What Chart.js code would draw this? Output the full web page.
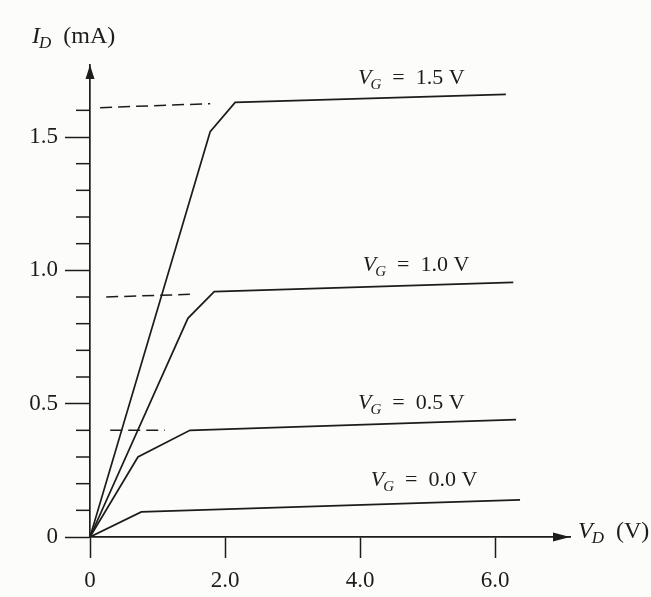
<!DOCTYPE html>
<html>
<head>
<meta charset="utf-8">
<script src="https://cdn.jsdelivr.net/npm/chart.js@4.4.0/dist/chart.umd.min.js"></script>
<style>
  html, body { margin:0; padding:0; background:#fcfcfb; }
  #wrap { width:651px; height:597px; }
</style>
</head>
<body>
<div id="wrap"><canvas id="c" width="651" height="597"></canvas></div>
<script>
// drain voltage (V) / drain current (mA) breakpoints for each gate voltage
const vdVg00 = [0, 0.76, 6.37];
const idVg00 = [0, 0.094, 0.139];
const vdVg05 = [0, 0.71, 1.48, 6.31];
const idVg05 = [0, 0.30, 0.40, 0.44];
const vdVg10 = [0, 1.45, 1.84, 6.27];
const idVg10 = [0, 0.82, 0.92, 0.955];
const vdVg15 = [0, 1.78, 2.15, 6.16];
const idVg15 = [0, 1.52, 1.63, 1.66];

// dashed saturation guides
const vdDash16 = [0.15, 1.78];
const idDash16 = [1.61, 1.625];
const vdDash09 = [0.24, 1.48];
const idDash09 = [0.90, 0.91];
const vdDash04 = [0.30, 1.11];
const idDash04 = [0.40, 0.40];

const vgLabels = ['0.0', '0.5', '1.0', '1.5'];

// axes
const xTicks = [0, 2, 4, 6];
const xTickLabels = ['0', '2.0', '4.0', '6.0'];
const yTicks = [0, 0.1, 0.2, 0.3, 0.4, 0.5, 0.6, 0.7, 0.8, 0.9, 1.0, 1.1, 1.2, 1.3, 1.4, 1.5, 1.6];
const yMajor = [0, 0.5, 1.0, 1.5];
const yMajorLabels = ['0', '0.5', '1.0', '1.5'];

const INK = '#1c1c1c';
const SERIF = '"Liberation Serif", "DejaVu Serif", serif';

function pts(xs, ys) { return xs.map((x, i) => ({ x: x, y: ys[i] })); }
function isMajor(v) { return yMajor.some(m => Math.abs(m - v) < 1e-6); }

function curve(xs, ys) {
    return { data: pts(xs, ys), borderColor: INK, borderWidth: 1.7, pointRadius: 0, fill: false, tension: 0 };
}
function dashed(xs, ys) {
    return { data: pts(xs, ys), borderColor: INK, borderWidth: 1.5, borderDash: [12, 6], pointRadius: 0, fill: false, tension: 0 };
}

// subscripted label like V_G = 1.5 V, drawn from its left end on the baseline
function subText(ctx, x, y, size, main, sub, rest) {
    ctx.font = 'italic ' + size + 'px ' + SERIF;
    ctx.fillText(main, x, y);
    x += ctx.measureText(main).width - 1;
    ctx.font = 'italic ' + Math.round(size * 0.7) + 'px ' + SERIF;
    ctx.fillText(sub, x, y + 5);
    x += ctx.measureText(sub).width;
    ctx.font = size + 'px ' + SERIF;
    ctx.fillText(rest, x, y);
}

const decor = {
    id: 'decor',
    afterDraw(chart) {
        const ctx = chart.ctx;
        const xs = chart.scales.x, ys = chart.scales.y;
        const ca = chart.chartArea;
        ctx.save();
        ctx.strokeStyle = INK;
        ctx.fillStyle = INK;
        ctx.lineWidth = 1.5;

        // minor ticks on I_D axis
        yTicks.forEach(v => {
            if (isMajor(v)) return;
            const py = ys.getPixelForValue(v);
            ctx.beginPath();
            ctx.moveTo(ca.left - 14, py);
            ctx.lineTo(ca.left, py);
            ctx.stroke();
        });

        // arrow heads
        ctx.beginPath();
        ctx.moveTo(ca.left, ca.top);
        ctx.lineTo(ca.left - 4.5, ca.top + 14);
        ctx.lineTo(ca.left + 4.5, ca.top + 14);
        ctx.closePath();
        ctx.fill();
        ctx.beginPath();
        ctx.moveTo(ca.right, ca.bottom);
        ctx.lineTo(ca.right - 17, ca.bottom - 4.5);
        ctx.lineTo(ca.right - 17, ca.bottom + 4.5);
        ctx.closePath();
        ctx.fill();

        // axis titles
        ctx.textAlign = 'left';
        ctx.textBaseline = 'alphabetic';
        subText(ctx, ca.left - 58, ca.top - 22, 24, 'I', 'D', '\u2002(mA)');
        subText(ctx, ca.right + 8, ca.bottom + 1, 24, 'V', 'D', '\u2002(V)');

        // curve labels
        const anchors = [[4.16, 0.19], [3.97, 0.48], [4.04, 0.996], [3.97, 1.70]];
        vgLabels.forEach((t, i) => {
            subText(ctx, xs.getPixelForValue(anchors[i][0]), ys.getPixelForValue(anchors[i][1]), 22,
                'V', 'G', '\u2002=\u2002' + t + ' V');
        });
        ctx.restore();
    }
};

new Chart(document.getElementById('c'), {
    type: 'line',
    data: {
        datasets: [
            curve(vdVg00, idVg00),
            curve(vdVg05, idVg05),
            curve(vdVg10, idVg10),
            curve(vdVg15, idVg15),
            dashed(vdDash16, idDash16),
            dashed(vdDash09, idDash09),
            dashed(vdDash04, idDash04)
        ]
    },
    options: {
        responsive: false,
        animation: false,
        devicePixelRatio: 1,
        layout: { padding: { top: 65, right: 81, left: 0, bottom: 0 } },
        plugins: { legend: { display: false }, tooltip: { enabled: false } },
        scales: {
            x: {
                type: 'linear',
                min: 0,
                max: 7.11,
                afterBuildTicks: s => { s.ticks = xTicks.map(v => ({ value: v })); },
                afterFit: s => { s.height = 60; },
                ticks: {
                    color: INK,
                    padding: 9,
                    autoSkip: false,
                    maxRotation: 0,
                    font: { family: SERIF, size: 23 },
                    callback: v => xTickLabels[xTicks.indexOf(v)]
                },
                grid: { drawOnChartArea: false, drawTicks: true, tickLength: 21, tickColor: INK, tickWidth: 1.5 },
                border: { display: true, color: INK, width: 1.7 }
            },
            y: {
                type: 'linear',
                min: 0,
                max: 1.77,
                afterBuildTicks: s => { s.ticks = yTicks.map(v => ({ value: v })); },
                afterFit: s => { s.width = 90; },
                ticks: {
                    color: INK,
                    padding: 7,
                    autoSkip: false,
                    font: { family: SERIF, size: 23 },
                    callback: v => isMajor(v) ? yMajorLabels[yMajor.findIndex(m => Math.abs(m - v) < 1e-6)] : ''
                },
                grid: {
                    drawOnChartArea: false,
                    drawTicks: true,
                    tickLength: 25,
                    tickWidth: 1.5,
                    tickColor: c => isMajor(c.tick.value) ? INK : 'rgba(0,0,0,0)'
                },
                border: { display: true, color: INK, width: 1.7 }
            }
        }
    },
    plugins: [decor]
});
</script>
</body>
</html>
